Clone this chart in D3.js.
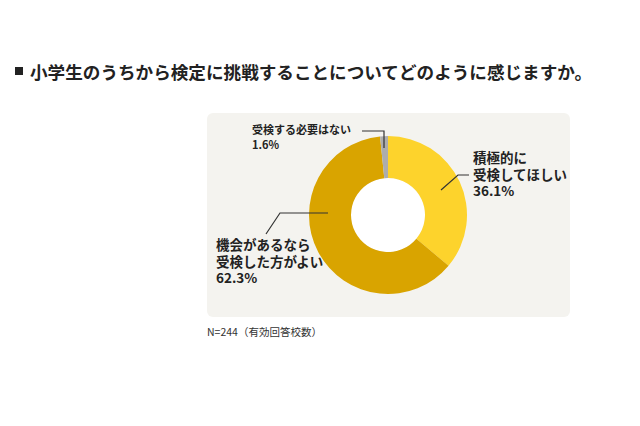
<!DOCTYPE html>
<html><head><meta charset="utf-8">
<script src="https://cdn.jsdelivr.net/npm/d3@7"></script>
<style>body{margin:0;background:#fff;font-family:"Noto Sans CJK JP","Noto Sans",sans-serif;}</style>
</head><body><div id="chart"></div>
<script>
// data
var categories = ["積極的に受検してほしい", "機会があるなら受検した方がよい", "受検する必要はない"];
var values = [36.1, 62.3, 1.6];
var labelLines = [["積極的に", "受検してほしい", "36.1%"], ["機会があるなら", "受検した方がよい", "62.3%"], ["受検する必要はない", "1.6%"]];
var colors = ["#fdd32c", "#d9a400", "#adadad"];

var svg = d3.select("#chart").append("svg").attr("width", 640).attr("height", 426);

// title
svg.append("rect").attr("x", 15).attr("y", 67).attr("width", 8).attr("height", 8).attr("fill", "#222");
svg.append("text").attr("x", 30).attr("y", 79).attr("font-size", 17.6).attr("font-weight", "bold").attr("fill", "#222")
    .text("小学生のうちから検定に挑戦することについてどのように感じますか。");

// panel
svg.append("rect").attr("x", 207).attr("y", 113).attr("width", 363).attr("height", 204).attr("rx", 6).attr("fill", "#f4f3ef");

var cx = 388, cy = 215;
var pie = d3.pie().sort(null).value(d => d);
var arc = d3.arc().innerRadius(37).outerRadius(79);
var g = svg.append("g").attr("transform", `translate(${cx},${cy})`);
g.append("circle").attr("r", 37).attr("fill", "#fff");
g.selectAll("path").data(pie(values)).enter().append("path")
    .attr("d", arc).attr("fill", (d, i) => colors[i]);

// leader lines
var leaders = [
    [[441, 190], [458, 175], [469, 175]],
    [[328, 213], [280, 213], [266, 234]],
    [[384, 148], [384, 131], [362, 131]]
];
var line = d3.line();
svg.selectAll(".leader").data(leaders).enter().append("path")
    .attr("d", line).attr("fill", "none").attr("stroke", "#333").attr("stroke-width", 1.2);

// labels
var labelPos = [[473, 163, 16.5, 13.5], [216, 250, 16.5, 13.5], [252, 134, 14.5, 11]];
labelLines.forEach(function (lines, i) {
    var t = svg.append("text").attr("x", labelPos[i][0]).attr("y", labelPos[i][1])
        .attr("font-size", labelPos[i][3]).attr("font-weight", "bold").attr("fill", "#222");
    lines.forEach(function (s, j) {
        t.append("tspan").attr("x", labelPos[i][0]).attr("dy", j ? labelPos[i][2] : 0).text(s);
    });
});

svg.append("text").attr("x", 207).attr("y", 336).attr("font-size", 10.5).attr("fill", "#333")
    .text("N=244（有効回答校数）");
</script></body></html>
